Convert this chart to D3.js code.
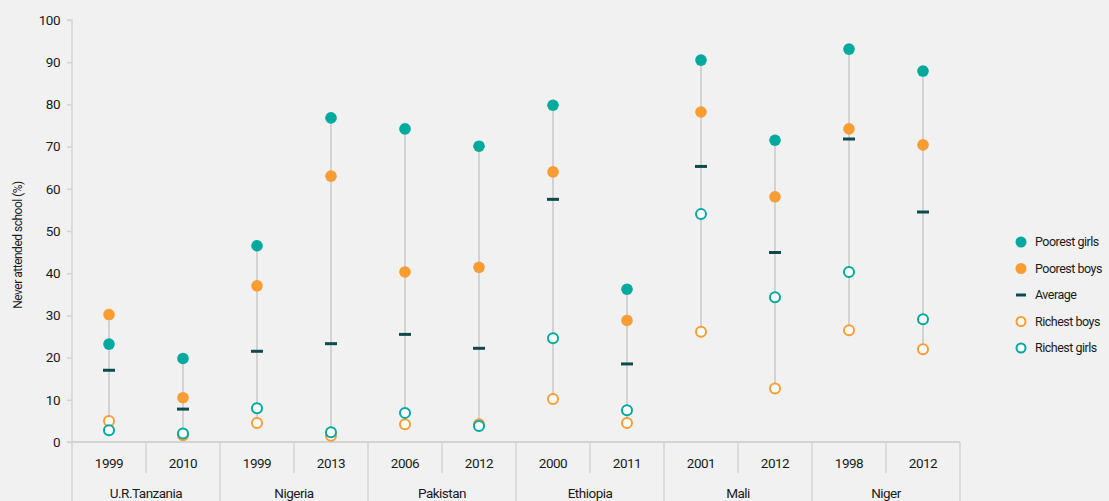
<!DOCTYPE html>
<meta charset="utf-8" />
<script src="https://d3js.org/d3.v7.min.js"></script>
<style>
  body { margin: 0; background: #f1f1f1; }
  svg text { font-family: "Roboto", sans-serif; fill: #1a1a1a; letter-spacing: -0.5px; }
</style>
<div id="chart"></div>
<script>
  // data
  const countries = ["U.R.Tanzania", "Nigeria", "Pakistan", "Ethiopia", "Mali", "Niger"];
  const years = ["1999", "2010", "1999", "2013", "2006", "2012", "2000", "2011", "2001", "2012", "1998", "2012"];
  const poorestGirls = [23.2, 19.8, 46.5, 76.8, 74.2, 70.1, 79.8, 36.2, 90.5, 71.5, 93.1, 87.9];
  const poorestBoys = [30.2, 10.5, 37.0, 63.0, 40.3, 41.4, 64.0, 28.8, 78.2, 58.1, 74.2, 70.4];
  const average = [17.0, 7.8, 21.5, 23.3, 25.5, 22.2, 57.5, 18.5, 65.3, 44.9, 71.8, 54.5];
  const richestBoys = [5.0, 1.6, 4.5, 1.5, 4.2, 4.2, 10.2, 4.5, 26.1, 12.7, 26.5, 22.0];
  const richestGirls = [2.8, 2.0, 8.0, 2.3, 6.9, 3.8, 24.6, 7.5, 54.0, 34.3, 40.3, 29.1];
  const yTicks = [0, 10, 20, 30, 40, 50, 60, 70, 80, 90, 100];

  const teal = "#00a99d", orange = "#f89d33", dark = "#0d4a4c", grey = "#d3d3d3";

  const W = 1109, H = 501;
  const mLeft = 72, mRight = 960, mTop = 20, mBottom = 442;

  const svg = d3.select("#chart").append("svg").attr("width", W).attr("height", H);

  const keys = years.map((d, i) => i);
  const x = d3.scaleBand().domain(keys).range([mLeft, mRight]);
  const y = d3.scaleLinear().domain([0, 100]).range([mBottom, mTop]);

  // y axis
  const yAxis = svg.append("g").attr("transform", `translate(${mLeft},0)`)
    .call(d3.axisLeft(y).tickValues(yTicks).tickSize(5).tickPadding(7));
  yAxis.selectAll("line, path").attr("stroke", grey).attr("stroke-width", 1.5);
  yAxis.select(".domain").attr("d", `M-5,${mTop}H0V${mBottom}`);
  yAxis.selectAll("text").style("font-size", "13.5px").attr("fill", "#1a1a1a");

  svg.append("text")
    .attr("transform", `translate(22,245) rotate(-90)`)
    .attr("text-anchor", "middle")
    .style("font-size", "12px")
    .text("Never attended school (%)");

  // x axis baseline
  svg.append("line").attr("x1", mLeft - 5).attr("x2", mRight).attr("y1", mBottom).attr("y2", mBottom)
    .attr("stroke", grey).attr("stroke-width", 2);

  // separators
  keys.concat([years.length]).forEach(i => {
    const xx = i < years.length ? x(i) : mRight;
    const long = i % 2 === 0;
    svg.append("line").attr("x1", xx).attr("x2", xx)
      .attr("y1", mBottom).attr("y2", long ? H : 473)
      .attr("stroke", grey).attr("stroke-width", 1.5);
  });

  // year labels
  svg.append("g").selectAll("text").data(keys).join("text")
    .attr("x", i => x(i) + x.bandwidth() / 2)
    .attr("y", 468)
    .attr("text-anchor", "middle")
    .style("font-size", "13.5px")
    .text(i => years[i]);

  // country labels
  svg.append("g").selectAll("text").data(countries).join("text")
    .attr("x", (d, j) => x(j * 2) + x.bandwidth())
    .attr("y", 498)
    .attr("text-anchor", "middle")
    .style("font-size", "13.5px")
    .text(d => d);

  const cx = i => x(i) + x.bandwidth() / 2;
  const all = [poorestGirls, poorestBoys, average, richestBoys, richestGirls];

  // range lines
  svg.append("g").selectAll("line").data(keys).join("line")
    .attr("x1", cx).attr("x2", cx)
    .attr("y1", i => y(d3.max(all, s => s[i])))
    .attr("y2", i => y(d3.min(all, s => s[i])))
    .attr("stroke", grey).attr("stroke-width", 2);

  // average dashes
  svg.append("g").selectAll("line").data(keys).join("line")
    .attr("x1", i => cx(i) - 6).attr("x2", i => cx(i) + 6)
    .attr("y1", i => y(average[i])).attr("y2", i => y(average[i]))
    .attr("stroke", dark).attr("stroke-width", 3);

  function dots(series, fill, stroke) {
    svg.append("g").selectAll("circle").data(keys).join("circle")
      .attr("cx", cx).attr("cy", i => y(series[i]))
      .attr("r", fill === "#fff" ? 5 : 5.8)
      .attr("fill", fill)
      .attr("stroke", stroke)
      .attr("stroke-width", fill === "#fff" ? 2 : 0);
  }
  dots(richestBoys, "#fff", orange);
  dots(richestGirls, "#fff", teal);
  dots(poorestBoys, orange, orange);
  dots(poorestGirls, teal, teal);

  // legend
  const legend = [
    { name: "Poorest girls", type: "fill", c: teal },
    { name: "Poorest boys", type: "fill", c: orange },
    { name: "Average", type: "dash", c: dark },
    { name: "Richest boys", type: "open", c: orange },
    { name: "Richest girls", type: "open", c: teal }
  ];
  const lg = svg.append("g").selectAll("g").data(legend).join("g")
    .attr("transform", (d, i) => `translate(1021,${242 + i * 26.5})`);
  lg.filter(d => d.type === "fill").append("circle").attr("r", 5.5).attr("fill", d => d.c);
  lg.filter(d => d.type === "open").append("circle").attr("r", 4.5)
    .attr("fill", "#fff").attr("stroke", d => d.c).attr("stroke-width", 2);
  lg.filter(d => d.type === "dash").append("line").attr("x1", -5).attr("x2", 5)
    .attr("stroke", d => d.c).attr("stroke-width", 3);
  lg.append("text").attr("x", 14).attr("dy", "0.35em")
    .style("font-size", "12.5px").text(d => d.name);
</script>
